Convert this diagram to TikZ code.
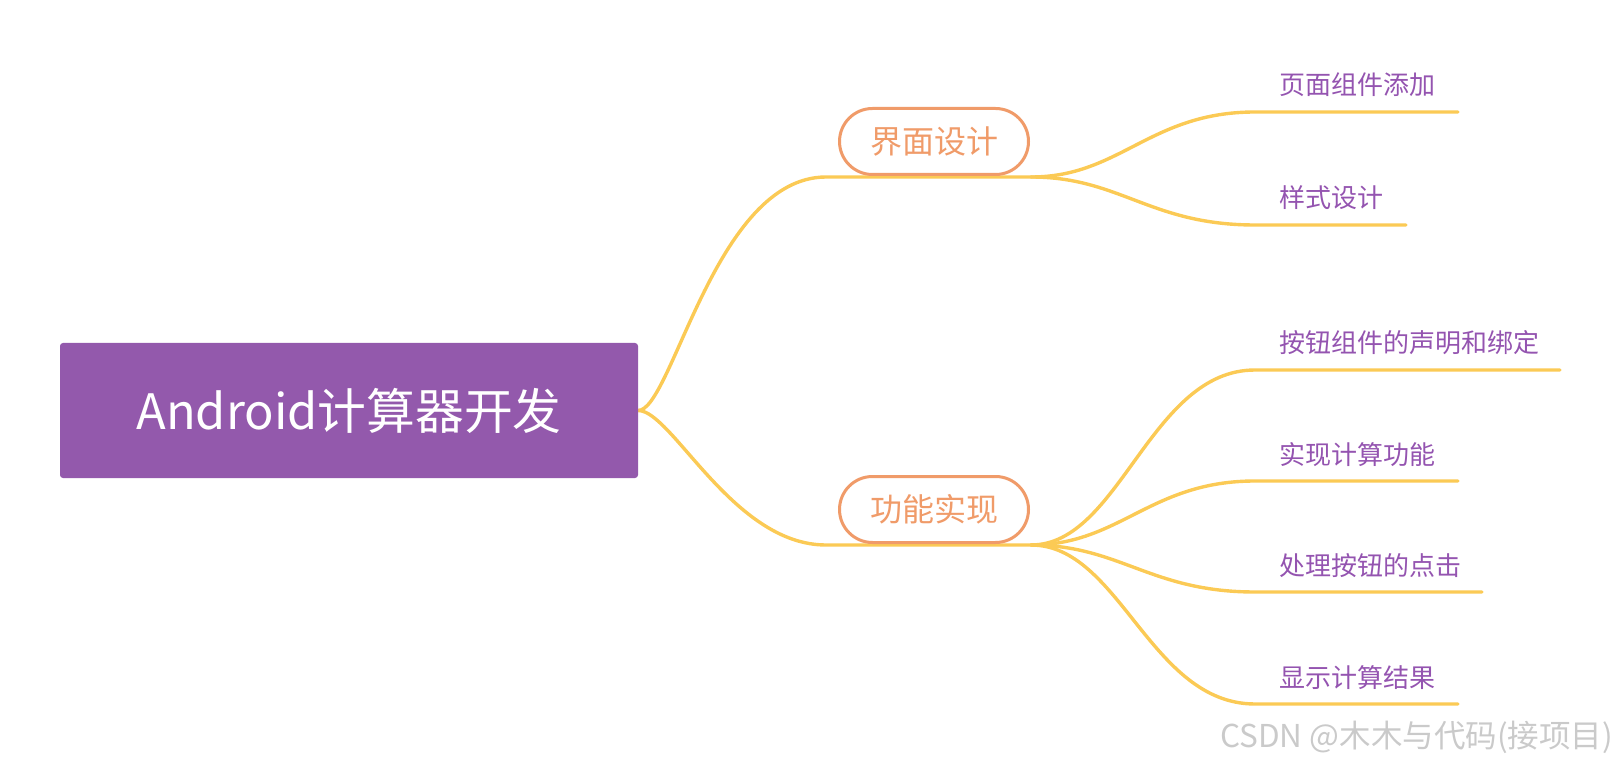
\documentclass[tikz,border=0pt]{standalone}
\usepackage{fontspec}
\newfontfamily\cjk{Noto Sans CJK SC}
\usetikzlibrary{backgrounds}
\definecolor{rootpurple}{HTML}{9359AC}
\definecolor{leafpurple}{HTML}{9454B0}
\definecolor{branchorange}{HTML}{F09B69}
\definecolor{lineyellow}{HTML}{FBCA55}
\definecolor{wmgray}{HTML}{CACACA}
\begin{document}
\begin{tikzpicture}[x=1pt,y=-1pt,
  rootbox/.style={fill=rootpurple, rounded corners=3pt, minimum width=578pt, minimum height=135pt, inner sep=0pt, text=white, font=\cjk\fontsize{48.8}{48.8}\selectfont},
  branchbox/.style={draw=branchorange, line width=3pt, fill=white, rounded corners=33pt, minimum width=189pt, minimum height=66pt, inner sep=0pt, text=branchorange, font=\cjk\fontsize{32}{32}\selectfont},
  leaftext/.style={anchor=base west, inner sep=0pt, text=leafpurple, font=\cjk\fontsize{26}{26}\selectfont},
  conn/.style={draw=lineyellow, line width=3.4pt, line cap=round},
  watermark/.style={anchor=east, inner sep=0pt, text=wmgray, font=\cjk\fontsize{31.5}{31.5}\selectfont},
]
\useasboundingbox (0,0) rectangle (1618,767);

\node[rootbox] (root) at (349,410.5) {Android计算器开发};
\node[branchbox] (ui) at (934,141.5) {界面设计};
\node[branchbox] (fn) at (934,509.5) {功能实现};

\coordinate (uiL) at (826,177);
\coordinate (uiR) at (1031,177);
\coordinate (fnL) at (826,545);
\coordinate (fnR) at (1031,545);

\coordinate (l1) at (1255,112);  \coordinate (l1e) at (1458,112);
\coordinate (l2) at (1255,225);  \coordinate (l2e) at (1406,225);
\coordinate (l3) at (1255,370);  \coordinate (l3e) at (1560,370);
\coordinate (l4) at (1255,481);  \coordinate (l4e) at (1458,481);
\coordinate (l5) at (1255,592);  \coordinate (l5e) at (1482,592);
\coordinate (l6) at (1255,704);  \coordinate (l6e) at (1458,704);

\node[leaftext] (t1) at (1279,95) {页面组件添加};
\node[leaftext] (t2) at (1279,208) {样式设计};
\node[leaftext] (t3) at (1279,353) {按钮组件的声明和绑定};
\node[leaftext] (t4) at (1279,464) {实现计算功能};
\node[leaftext] (t5) at (1279,575) {处理按钮的点击};
\node[leaftext] (t6) at (1279,687) {显示计算结果};

\node[watermark] (wm) at (1613,737) {CSDN @木木与代码(接项目)};

\begin{scope}[on background layer]
\draw[conn] (root.east) .. controls (672,410.5) and (715,177) .. (uiL) -- (uiR);
\draw[conn] (root.east) .. controls (672,410.5) and (733,545) .. (fnL) -- (fnR);
\draw[conn] (uiR) .. controls (1120,177) and (1150,112) .. (l1) -- (l1e);
\draw[conn] (uiR) .. controls (1120,177) and (1150,225) .. (l2) -- (l2e);
\draw[conn] (fnR) .. controls (1120,545) and (1150,370) .. (l3) -- (l3e);
\draw[conn] (fnR) .. controls (1120,545) and (1150,481) .. (l4) -- (l4e);
\draw[conn] (fnR) .. controls (1120,545) and (1150,592) .. (l5) -- (l5e);
\draw[conn] (fnR) .. controls (1120,545) and (1150,704) .. (l6) -- (l6e);
\end{scope}
\end{tikzpicture}
\end{document}
